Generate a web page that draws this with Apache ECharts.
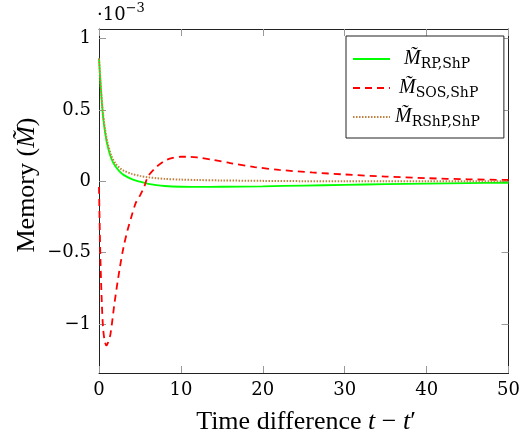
<!DOCTYPE html>
<html>
<head>
<meta charset="utf-8">
<script src="https://cdn.jsdelivr.net/npm/echarts@6/dist/echarts.min.js"></script>
<style>html,body{margin:0;padding:0;background:#fff}#c{width:523px;height:438px}</style>
</head>
<body>
<div id="c"></div>
<script>
// Values in units of 1e-3
const tRP  = [0,0.25,0.5,0.75,1,1.5,2,2.5,3,4,5,6,7,8,10,12,15,20,25,30,35,40,45,50];
const mRP  = [0.86,0.63,0.45,0.34,0.26,0.16,0.105,0.07,0.045,0.015,-0.003,-0.018,-0.027,-0.033,-0.038,-0.039,-0.038,-0.035,-0.030,-0.025,-0.020,-0.016,-0.013,-0.010];
const tSOS = [0,0.1,0.2,0.35,0.5,0.7,0.9,1.1,1.4,1.9,2.5,3,3.5,4,4.5,5,5.5,6,7,8,9,10,11,12,14,16,19,22,26,30,35,40,45,50];
const mSOS = [-0.04,-0.35,-0.6,-0.86,-1.03,-1.12,-1.15,-1.13,-1.07,-0.85,-0.62,-0.46,-0.34,-0.24,-0.15,-0.10,-0.04,0.035,0.10,0.143,0.164,0.172,0.172,0.167,0.150,0.128,0.100,0.080,0.062,0.048,0.033,0.022,0.014,0.009];
const tRS  = [0,0.25,0.5,0.75,1,1.5,2,2.5,3,4,5,6,7,8,10,12,15,20,25,30,35,40,45,50];
const mRS  = [0.86,0.64,0.47,0.36,0.28,0.18,0.125,0.095,0.075,0.052,0.038,0.028,0.022,0.017,0.012,0.009,0.006,0.003,0.001,0,0,0,0,0];
const xTicks = [0,10,20,30,40,50];
const yTicks = [-1,-0.5,0,0.5,1];
const names = ['RP','SOS','RShP'];

const zip = (a,b)=>a.map((v,i)=>[v,b[i]]);
const FONT = 'Liberation Serif';
const TFONT = 'DejaVu Serif';
const fmtY = v => (v<0?'\u2212':'') + String(Math.abs(v));
const tickStyle = {show:true, inside:true, length:7, lineStyle:{color:'#999', width:1}};
const lineAx = {show:true, onZero:false, lineStyle:{color:'#222', width:1}};
const xBase = {type:'value', min:0, max:50, interval:10, splitLine:{show:false}, axisLine:lineAx,
  axisTick:Object.assign({}, tickStyle, {customValues:xTicks})};
const yBase = {type:'value', min:-1.343, max:1.067, splitLine:{show:false}, axisLine:lineAx,
  axisTick:Object.assign({}, tickStyle, {customValues:yTicks})};

const padL = {RP:9, SOS:4, RShP:0};
const chart = echarts.init(document.getElementById('c'));
chart.setOption({
  animation:false,
  grid:{left:99, right:10, top:29, bottom:65, containLabel:false},
  xAxis:[
    Object.assign({}, xBase, {position:'bottom', axisLabel:{color:'#000', fontFamily:TFONT, fontSize:18, margin:8, customValues:xTicks}}),
    Object.assign({}, xBase, {position:'top', axisLabel:{show:false}})
  ],
  yAxis:[
    Object.assign({}, yBase, {position:'left', axisLabel:{color:'#000', fontFamily:TFONT, fontSize:18, margin:8, formatter:fmtY, customValues:yTicks}}),
    Object.assign({}, yBase, {position:'right', axisLabel:{show:false}})
  ],
  legend:{
    orient:'vertical', left:346, top:36, padding:[13,24,9,6], itemGap:7,
    itemWidth:37, itemHeight:14, borderColor:'#222', borderWidth:1, borderRadius:0,
    backgroundColor:'#fff', itemStyle:{opacity:0},
    data:names,
    formatter: n => '{p' + n + '|}{m|M\u0303}{s|' + n + ',ShP}',
    textStyle:{color:'#000', fontFamily:FONT,
      rich:{
        pRP:{width:padL.RP}, pSOS:{width:padL.SOS}, pRShP:{width:0.01},
        m:{fontFamily:FONT, fontStyle:'italic', fontSize:20, lineHeight:24, color:'#000'},
        s:{fontFamily:TFONT, fontSize:14, lineHeight:16, verticalAlign:'bottom', color:'#000'}
      }}
  },
  graphic:[
    {type:'text', left:97, top:2, style:{text:'{a|\u00b710}{b|\u22123}', rich:{
      a:{fontFamily:TFONT, fontSize:18, fill:'#000', padding:[6,0,0,0]},
      b:{fontFamily:TFONT, fontSize:13, fill:'#000', padding:[0,0,8,0]}}}},
    {type:'text', x:27, y:185, rotation:Math.PI/2, style:{text:'{a|Memory (}{m|M\u0303}{a|)}', align:'center', verticalAlign:'middle',
      rich:{a:{fontFamily:FONT, fontSize:26, fill:'#000'}, m:{fontFamily:FONT, fontSize:26, fontStyle:'italic', fill:'#000'}}}},
    {type:'text', x:306, y:422, style:{text:'{a|Time difference }{i|t}{a| \u2212 }{i|t}{a|\u2032}', align:'center', verticalAlign:'middle',
      rich:{a:{fontFamily:FONT, fontSize:26, fill:'#000'}, i:{fontFamily:FONT, fontSize:26, fontStyle:'italic', fill:'#000'}}}}
  ],
  series:[
    {name:'RP', type:'line', data:zip(tRP,mRP), smooth:0.3, symbol:'none', lineStyle:{color:'#00ff00', width:1.8}, itemStyle:{color:'#00ff00'}},
    {name:'SOS', type:'line', data:zip(tSOS,mSOS), smooth:0.3, symbol:'none', lineStyle:{color:'#ff0000', width:1.8, type:[7,5]}, itemStyle:{color:'#ff0000'}},
    {name:'RShP', type:'line', data:zip(tRS,mRS), smooth:0.3, symbol:'none', lineStyle:{color:'#bf8040', width:2, type:[1.5,1.5]}, itemStyle:{color:'#bf8040'}}
  ]
});
</script>
</body>
</html>
